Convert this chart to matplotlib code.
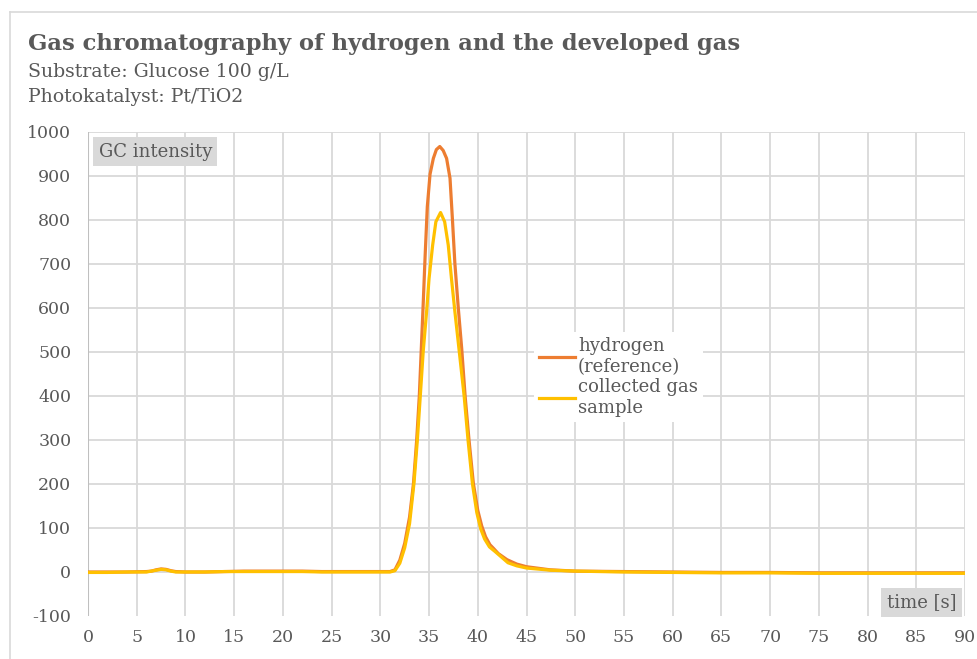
import matplotlib
matplotlib.use("Agg")
import matplotlib.pyplot as plt
from matplotlib.lines import Line2D

plt.rcParams['font.family'] = ['DejaVu Serif']
plt.rcParams['axes.unicode_minus'] = False

# values
time_h2 = [0, 2, 4, 6, 6.5, 7, 7.5, 8, 8.5, 9, 10, 12, 14, 16, 18, 20, 22, 24, 26, 28, 30,
           31, 31.5, 32, 32.5, 33.0, 33.4, 33.73, 34.0, 34.2, 34.4, 34.6, 34.82, 35.1, 35.44,
           35.75, 36.1, 36.45, 36.8, 37.15, 37.4, 37.65, 38.0, 38.35, 38.7, 39.1, 39.55,
           40.0, 40.4, 40.8, 41.25, 41.6, 42.1, 43, 44, 45, 47.4, 50, 55, 60, 65, 70, 75,
           80, 85, 90]
gc_h2 = [0, 0, 0, 1, 2, 5, 7, 6, 3, 1, 0, 0, 1, 2, 2, 2, 2, 1, 1, 1, 1,
         1, 5, 27, 65, 125, 201, 300, 400, 505, 610, 720, 830, 904, 940,
         960, 967, 958, 940, 895, 801, 701, 600, 508, 400, 300, 201,
         140, 105, 80, 62, 54, 42, 28, 18, 12, 5, 2, 1, 0, -1, -1, -2,
         -2, -2, -2]

time_gas = [0, 2, 4, 6, 6.5, 7, 7.5, 8, 8.5, 9, 10, 12, 14, 16, 18, 20, 22, 24, 26, 28, 30,
            31, 31.5, 32, 32.5, 33.0, 33.45, 33.8, 34.1, 34.4, 34.75, 35.0, 35.37, 35.7,
            36.18, 36.6, 36.97, 37.3, 37.65, 38.1, 38.6, 39.0, 39.45, 39.9, 40.3, 40.7,
            41.2, 41.8, 43.1, 44, 45, 47.5, 50, 55, 60, 65, 70, 75, 80, 85, 90]
gc_gas = [-1, -1, 0, 0, 2, 4, 6, 5, 2, 0, 0, 0, 1, 1, 1, 1, 1, 0, 0, 0, 0,
          0, 3, 20, 55, 110, 201, 300, 400, 501, 592, 667, 743, 796,
          817, 796, 743, 667, 592, 501, 400, 300, 201, 135, 98, 75,
          57, 46, 21, 14, 9, 4, 2, 0, -1, -2, -2, -3, -3, -3, -3]

xticks = list(range(0, 91, 5))
yticks = list(range(-100, 1001, 100))

text_col = '#595959'
grid_col = '#D9D9D9'

fig = plt.figure(figsize=(9.77, 6.59), dpi=100)
ax = fig.add_axes([88 / 977, 1 - 616 / 659, 877 / 977, 484 / 659])

ax.plot(time_h2, gc_h2, color='#ED7D31', lw=2.3, label='hydrogen\n(reference)',
        solid_joinstyle='round')
ax.plot(time_gas, gc_gas, color='#FFC000', lw=2.3, label='collected gas\nsample',
        solid_joinstyle='round')

ax.set_xlim(0, 90)
ax.set_ylim(-100, 1000)
ax.set_xticks(xticks)
ax.set_yticks(yticks)
ax.tick_params(length=0, labelsize=12.5, labelcolor=text_col)
ax.tick_params(axis='y', pad=12)
ax.tick_params(axis='x', pad=9)
ax.grid(True, color=grid_col, lw=1.3)
ax.set_axisbelow(True)
ax.get_ygridlines()[0].set_visible(False)
for s in ax.spines.values():
    s.set_visible(False)
ax.axvline(0, color='#BFBFBF', lw=1.5, zorder=1)

ax.text(0.012, 0.978, 'GC intensity', transform=ax.transAxes, ha='left', va='top',
        fontsize=13, color=text_col,
        bbox=dict(facecolor=grid_col, edgecolor='none', pad=4))
ax.text(0.99, 0.01, 'time [s]', transform=ax.transAxes, ha='right', va='bottom',
        fontsize=13, color=text_col,
        bbox=dict(facecolor=grid_col, edgecolor='none', pad=4))

leg = ax.legend(loc='upper left', bbox_to_anchor=(0.498, 0.606), frameon=True,
                fancybox=False, edgecolor='none', facecolor='white', framealpha=1,
                fontsize=13, handlelength=2.0, handletextpad=0.15, labelspacing=0.1,
                borderpad=0.3)
for t in leg.get_texts():
    t.set_color(text_col)

fig.text(28 / 977, 1 - 50 / 659, 'Gas chromatography of hydrogen and the developed gas',
         fontsize=16.3, fontweight='bold', color=text_col, va='baseline')
fig.text(28 / 977, 1 - 77 / 659, 'Substrate: Glucose 100 g/L',
         fontsize=13.6, color=text_col, va='baseline')
fig.text(28 / 977, 1 - 102 / 659, 'Photokatalyst: Pt/TiO2',
         fontsize=13.6, color=text_col, va='baseline')

# chart area border
fig.add_artist(Line2D([10 / 977, 10 / 977], [0, 1 - 12 / 659], color='#D9D9D9', lw=1.2))
fig.add_artist(Line2D([10 / 977, 1], [1 - 12 / 659, 1 - 12 / 659], color='#D9D9D9', lw=1.2))

fig.savefig('out.png', dpi=100)
